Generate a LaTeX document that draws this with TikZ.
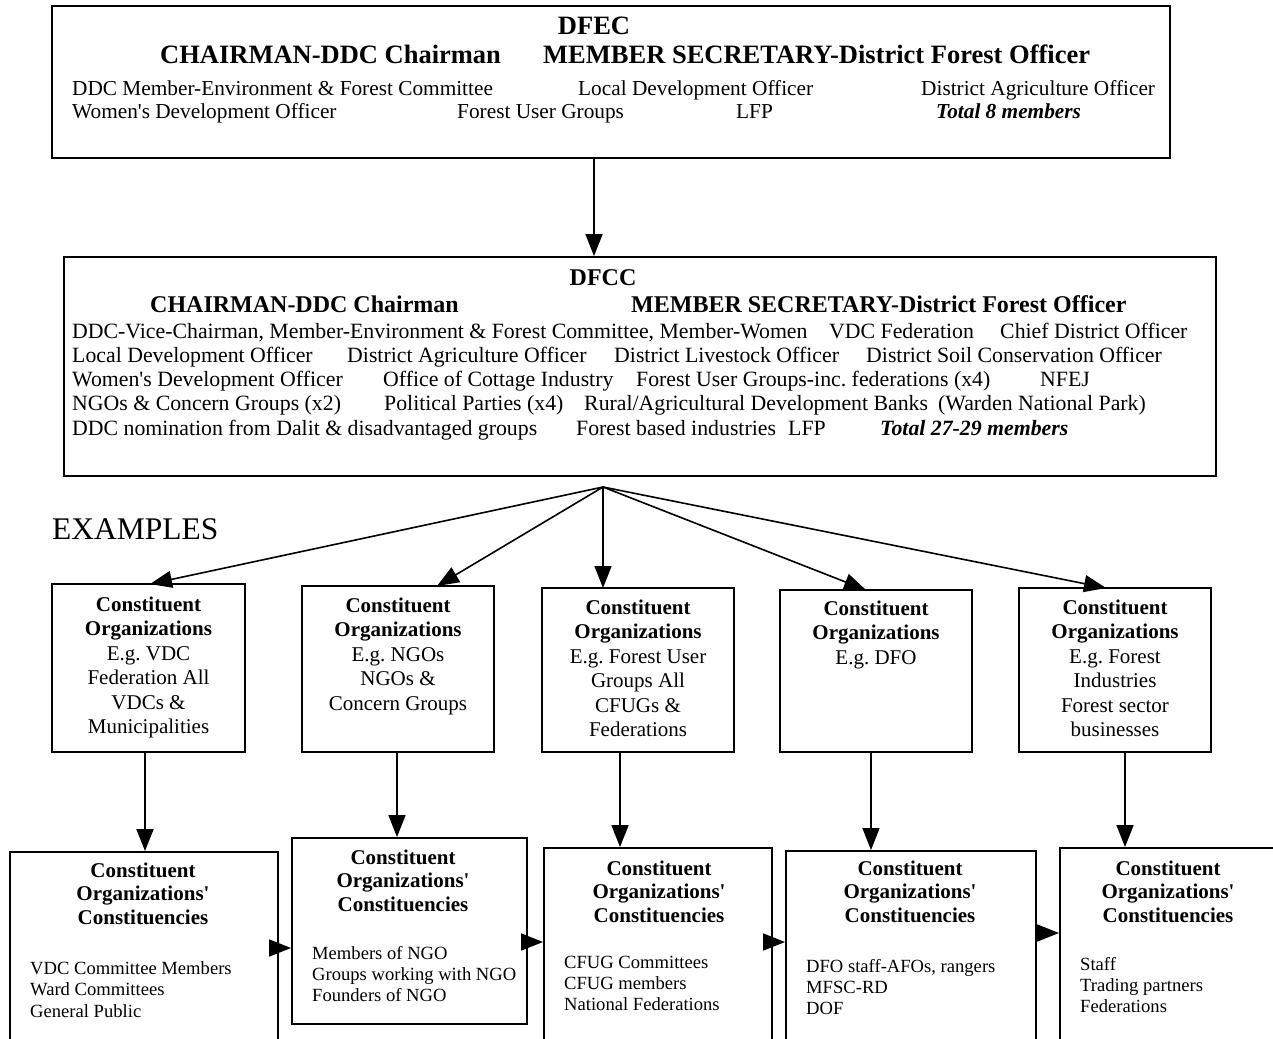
\documentclass[tikz,border=0pt]{standalone}
\usepackage{fontspec}
\setmainfont{Liberation Serif}[Ligatures=TeXOff]
\usetikzlibrary{arrows.meta,fit}
\frenchspacing
\begin{document}
\begin{tikzpicture}[x=1pt,y=-1pt,
  boxx/.style={draw, line width=1.9pt, inner sep=0pt},
  arr/.style={line width=1.6pt, -{Triangle[length=22pt,width=17pt]}},
  hdA/.style={font=\fontsize{26.5}{30}\selectfont\bfseries, inner sep=0pt},
  hdB/.style={font=\fontsize{24}{28}\selectfont\bfseries, inner sep=0pt},
  txA/.style={font=\fontsize{21.3}{24}\selectfont, inner sep=0pt, anchor=mid west},
  txB/.style={font=\fontsize{21.8}{24}\selectfont, inner sep=0pt, anchor=mid west},
  bh/.style={font=\fontsize{21}{24}\selectfont\bfseries, inner sep=0pt, anchor=mid},
  bt/.style={font=\fontsize{21}{24}\selectfont, inner sep=0pt, anchor=mid},
  lt/.style={font=\fontsize{18.6}{21}\selectfont, inner sep=0pt, anchor=mid west}]
\useasboundingbox (0,0) rectangle (1273,1038);

% ---------- DFEC ----------
\node[boxx, fit={(52,6)(1170,158)}] (dfec) {};
\node[hdA, anchor=mid] (dfect) at (594,32) {DFEC};
\node[hdA, anchor=mid west] (dfecch) at (160,61) {CHAIRMAN-DDC Chairman};
\node[hdA, anchor=mid west] (dfecms) at (543,61) {MEMBER SECRETARY-District Forest Officer};
\node[txA] (e11) at (72,93) {DDC Member-Environment \& Forest Committee};
\node[txA] (e12) at (578,93) {Local Development Officer};
\node[txA] (e13) at (921,93) {District Agriculture Officer};
\node[txA] (e21) at (72,116) {Women's Development Officer};
\node[txA] (e22) at (457,116) {Forest User Groups};
\node[txA] (e23) at (736,116) {LFP};
\node[txA] (e24) at (936,116) {\textbf{\textit{Total 8 members}}};

% ---------- DFCC ----------
\node[boxx, fit={(64,257)(1216,476)}] (dfcc) {};
\node[hdB, anchor=mid] (dfcct) at (603,283) {DFCC};
\node[hdB, anchor=mid west] (dfccch) at (150,310) {CHAIRMAN-DDC Chairman};
\node[hdB, anchor=mid west] (dfccms) at (631,310) {MEMBER SECRETARY-District Forest Officer};
\node[txB] (f11) at (72,336) {DDC-Vice-Chairman, Member-Environment \& Forest Committee, Member-Women};
\node[txB] (f12) at (829,336) {VDC Federation};
\node[txB] (f13) at (1000,336) {Chief District Officer};
\node[txB] (f21) at (72,360) {Local Development Officer};
\node[txB] (f22) at (347,360) {District Agriculture Officer};
\node[txB] (f23) at (614,360) {District Livestock Officer};
\node[txB] (f24) at (866,360) {District Soil Conservation Officer};
\node[txB] (f31) at (72,384) {Women's Development Officer};
\node[txB] (f32) at (383,384) {Office of Cottage Industry};
\node[txB] (f33) at (636,384) {Forest User Groups-inc. federations (x4)};
\node[txB] (f34) at (1040,384) {NFEJ};
\node[txB] (f41) at (72,408) {NGOs \& Concern Groups (x2)};
\node[txB] (f42) at (384,408) {Political Parties (x4)};
\node[txB] (f43) at (584,408) {Rural/Agricultural Development Banks};
\node[txB] (f44) at (938,408) {(Warden National Park)};
\node[txB] (f51) at (72,433) {DDC nomination from Dalit \& disadvantaged groups};
\node[txB] (f52) at (576,433) {Forest based industries};
\node[txB] (f53) at (788,433) {LFP};
\node[txB] (f54) at (880,433) {\textbf{\textit{Total 27-29 members}}};

\draw[arr] (dfect |- dfec.south) -- (dfect |- dfcc.north);

% ---------- EXAMPLES ----------
\node[font=\fontsize{31.5}{36}\selectfont, inner sep=0pt, anchor=mid west] (ex) at (52,537) {EXAMPLES};

% ---------- level 2 boxes ----------
\node[boxx, fit={(52,584)(245,752)}] (c1) {};
\node[boxx, fit={(302,586)(494,752)}] (c2) {};
\node[boxx, fit={(542,588)(734,752)}] (c3) {};
\node[boxx, fit={(780,590)(972,752)}] (c4) {};
\node[boxx, fit={(1019,588)(1211,752)}] (c5) {};

\node[bh] (c1a) at (148.5,609) {Constituent};
\node[bh] (c1b) at (148.5,633.5) {Organizations};
\foreach \t [count=\i] in {E.g. VDC, Federation All, VDCs \&, Municipalities}
  \node[bt] (c1t\i) at (148.5,{633.5+24.4*\i}) {\t};

\node[bh] (c2a) at (398,610) {Constituent};
\node[bh] (c2b) at (398,634.5) {Organizations};
\foreach \t [count=\i] in {E.g. NGOs, NGOs \&, Concern Groups}
  \node[bt] (c2t\i) at (398,{634.5+24.4*\i}) {\t};

\node[bh] (c3a) at (638,612) {Constituent};
\node[bh] (c3b) at (638,636.5) {Organizations};
\foreach \t [count=\i] in {E.g. Forest User, Groups All, CFUGs \&, Federations}
  \node[bt] (c3t\i) at (638,{636.5+24.4*\i}) {\t};

\node[bh] (c4a) at (876,613) {Constituent};
\node[bh] (c4b) at (876,637.5) {Organizations};
\node[bt] (c4t1) at (876,662) {E.g. DFO};

\node[bh] (c5a) at (1115,612) {Constituent};
\node[bh] (c5b) at (1115,636.5) {Organizations};
\foreach \t [count=\i] in {E.g. Forest, Industries, Forest sector, businesses}
  \node[bt] (c5t\i) at (1115,{636.5+24.4*\i}) {\t};

% fan arrows
\coordinate (apex) at (603,487);
\coordinate (t1) at (150,584);
\coordinate (t2) at (437,586);
\coordinate (t3) at (603,588);
\coordinate (t4) at (866,590);
\coordinate (t5) at (1106,588);
\foreach \k in {1,...,5} \draw[arr] (apex) -- (t\k);

% ---------- level 3 boxes ----------
\node[boxx, fit={(10,852)(278,1060)}] (d1) {};
\node[boxx, fit={(292,838)(527,1024)}] (d2) {};
\node[boxx, fit={(544,848)(772,1060)}] (d3) {};
\node[boxx, fit={(786,851)(1036,1060)}] (d4) {};
\node[boxx, fit={(1060,848)(1290,1060)}] (d5) {};

\foreach \n/\x/\y in {d1/143/875, d2/403/862, d3/659/873, d4/910/873, d5/1168/873}{
  \node[bh] (\n h1) at (\x,\y) {Constituent};
  \node[bh] (\n h2) at (\x,{\y+23.5}) {Organizations'};
  \node[bh] (\n h3) at (\x,{\y+47}) {Constituencies};
}
\foreach \t [count=\i] in {VDC Committee Members, Ward Committees, General Public}
  \node[lt] (d1l\i) at (30,{972+21.5*(\i-1)}) {\t};
\foreach \t [count=\i] in {Members of NGO, Groups working with NGO, Founders of NGO}
  \node[lt] (d2l\i) at (312,{957+21*(\i-1)}) {\t};
\foreach \t [count=\i] in {CFUG Committees, CFUG members, National Federations}
  \node[lt] (d3l\i) at (564,{966+21*(\i-1)}) {\t};
\foreach \t [count=\i] in {{DFO staff-AFOs, rangers}, MFSC-RD, DOF}
  \node[lt] (d4l\i) at (806,{970+21*(\i-1)}) {\t};
\foreach \t [count=\i] in {Staff, Trading partners, Federations}
  \node[lt] (d5l\i) at (1080,{968+21*(\i-1)}) {\t};

% vertical arrows level 2 -> level 3
\draw[arr] (c1.south -| 145,0) -- (d1.north -| 145,0);
\draw[arr] (c2.south -| 397,0) -- (d2.north -| 397,0);
\draw[arr] (c3.south -| 620,0) -- (d3.north -| 620,0);
\draw[arr] (c4.south -| 871,0) -- (d4.north -| 871,0);
\draw[arr] (c5.south -| 1125,0) -- (d5.north -| 1125,0);

% horizontal arrows between level 3 boxes
\draw[arr] (d1.east |- 0,948) -- (d2.west |- 0,948);
\draw[arr] (d2.east |- 0,942) -- (d3.west |- 0,942);
\draw[arr] (d3.east |- 0,942) -- (d4.west |- 0,942);
\draw[arr] (d4.east |- 0,933) -- (d5.west |- 0,933);
\end{tikzpicture}
\end{document}
